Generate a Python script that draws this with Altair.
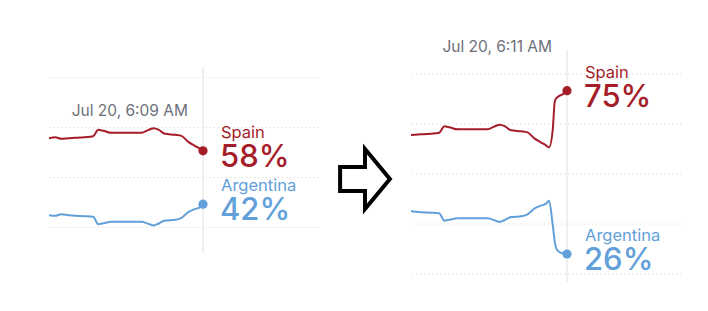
import altair as alt
import pandas as pd

# Win probability for the match, sampled on Jul 20 (local time)
times = [
    "05:54:00", "05:54:36", "05:55:12", "05:55:54", "05:56:30", "05:57:30",
    "05:58:18", "05:58:48", "05:59:18", "06:00:06", "06:01:06", "06:03:00",
    "06:03:42", "06:04:12", "06:04:42", "06:05:18", "06:06:18", "06:06:54",
    "06:07:36", "06:08:12", "06:08:42", "06:09:00", "06:09:21", "06:09:34",
    "06:09:50", "06:10:19", "06:10:45",
]
spain = [
    61.8, 62.1, 61.6, 61.8, 61.9, 62.1, 62.4, 64.3, 64.0, 63.4, 63.4, 63.4,
    64.3, 64.8, 64.3, 63.1, 62.8, 62.5, 60.6, 59.5, 58.6, 58.0, 62.9, 71.9,
    73.1, 73.9, 75.0,
]
argentina = [
    38.7, 38.5, 39.0, 38.7, 38.5, 38.4, 38.2, 36.0, 36.3, 36.7, 36.7, 36.7,
    36.1, 35.6, 36.2, 37.1, 37.3, 37.9, 39.7, 40.5, 41.1, 42.0, 35.0, 29.5,
    27.0, 26.2, 26.0,
]
teams = ["Spain", "Argentina"]
grid_before = [35, 50, 65, 80]
grid_after = [20, 35, 50, 65, 80]
stamp_before = "Jul 20, 6:09 AM"
stamp_after = "Jul 20, 6:11 AM"

RED = "#a51d29"
BLUE = "#62a0da"
GRAY_TEXT = "#6d7079"
GRID = "#d4d4d4"
CURSOR = "#e6e6e6"
FONT = "Inter"

df = pd.DataFrame({
    "time": pd.to_datetime([f"2024-07-20T{t}" for t in times]),
    "Spain": spain,
    "Argentina": argentina,
})
long = df.melt("time", var_name="team", value_name="pct")
long["label"] = long["pct"].map(lambda v: f"{v:.0f}%")


def dt(h, m, s):
    return alt.DateTime(year=2024, month=7, date=20, hours=h, minutes=m, seconds=s)


def panel(start, end, end_ts, span_px, ydom, grid_vals, stamp, stamp_y, cur_top, cur_bottom):
    data = long[long["time"] <= pd.Timestamp(end_ts)]
    last = data[data["time"] == data["time"].max()]

    x = alt.X("time:T", axis=None,
              scale=alt.Scale(domain=[start, end], range=[0, span_px]))
    y = alt.Y("pct:Q", axis=None,
              scale=alt.Scale(domain=ydom, zero=False, nice=False))
    color = alt.Color("team:N", legend=None,
                      scale=alt.Scale(domain=teams, range=[RED, BLUE]))

    grid = alt.Chart(pd.DataFrame({"pct": grid_vals})).mark_rule(
        color=GRID, strokeDash=[1, 3], strokeWidth=1
    ).encode(y=y)

    cursor = alt.Chart(last.head(1)).mark_rule(
        color=CURSOR, strokeWidth=1.2
    ).encode(x=x, y=alt.value(cur_top), y2=alt.value(cur_bottom))

    lines = alt.Chart(data).mark_line(
        clip=True, strokeWidth=2, interpolate="monotone"
    ).encode(x=x, y=y, color=color)

    dots = alt.Chart(last).mark_circle(size=85, opacity=1).encode(
        x=x, y=y, color=color)

    names = alt.Chart(last).mark_text(
        align="left", baseline="alphabetic", dx=18, dy=-13,
        fontSize=16.5, font=FONT
    ).encode(x=x, y=y, color=color, text="team:N")

    values = alt.Chart(last).mark_text(
        align="left", baseline="alphabetic", dx=17, dy=16,
        fontSize=31, fontWeight=500, font=FONT
    ).encode(x=x, y=y, color=color, text="label:N")

    stamp_layer = alt.Chart(last.head(1).assign(stamp=stamp)).mark_text(
        align="right", baseline="alphabetic", dx=-15,
        fontSize=15.5, font=FONT, color=GRAY_TEXT
    ).encode(x=x, y=alt.value(stamp_y), text="stamp:N")

    return alt.layer(grid, cursor, lines, dots, names, values, stamp_layer).properties(
        width=270, height=311)


before = panel(dt(5, 54, 0), dt(6, 9, 0), "2024-07-20T06:09:00", 154,
               [9.95, 103.25], grid_before, stamp_before, 115.5, 67, 253)
after = panel(dt(5, 55, 33), dt(6, 10, 45), "2024-07-20T06:10:45", 156,
              [8.9, 102.2], grid_after, stamp_after, 51.7, 50, 282)

ARROW = ("M -0.83 -0.4 L 0 -0.4 L 0 -1 L 0.83 0 L 0 1 L 0 0.4 "
         "L -0.83 0.4 Z")
arrow = alt.Chart(pd.DataFrame({"k": [0]})).mark_point(
    shape=ARROW, size=3600, filled=False, stroke="black",
    strokeWidth=4, opacity=1, strokeJoin="miter"
).encode(x=alt.value(46), y=alt.value(179)).properties(width=92, height=311)

chart = alt.hconcat(before, arrow, after, spacing=0, bounds="flush").properties(
    padding={"left": 48, "top": 0, "right": 0, "bottom": 0}
).configure_view(stroke=None)

chart.save("out.html", embed_options={"renderer": "svg", "actions": False})
